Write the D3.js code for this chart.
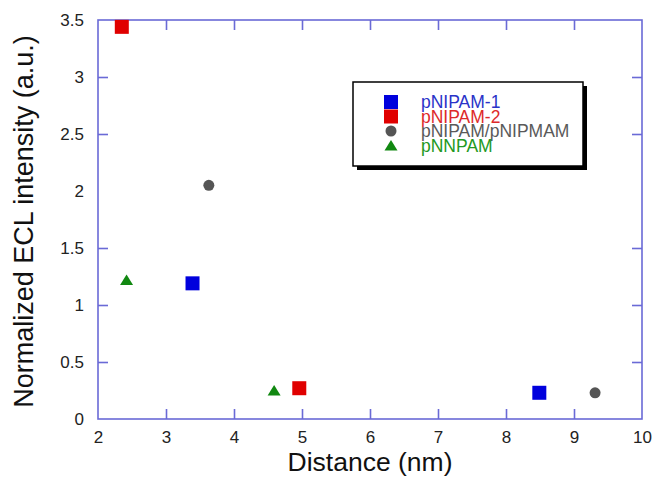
<!DOCTYPE html>
<html><head><meta charset="utf-8">
<script src="https://cdn.jsdelivr.net/npm/d3@7"></script>
<style>body{margin:0;background:#fff}svg{display:block}text{font-family:"Liberation Sans",Arial,sans-serif}</style>
</head><body>
<svg id="c" width="654" height="479"></svg>
<script>
const seriesNames = ["pNIPAM-1", "pNIPAM-2", "pNIPAM/pNIPMAM", "pNNPAM"];
const seriesShapes = ["square", "square", "circle", "triangle"];
const seriesColors = ["#0000dd", "#e00000", "#555555", "#118811"];
const textColors = ["#2a33c8", "#dd2a2a", "#5a5a5a", "#229922"];
const pNIPAM1 = [[3.39, 1.19], [8.49, 0.23]];
const pNIPAM2 = [[2.35, 3.44], [4.96, 0.27]];
const pNIPAM_pNIPMAM = [[3.63, 2.05], [9.31, 0.23]];
const pNNPAM = [[2.42, 1.22], [4.59, 0.25]];
const seriesData = [pNIPAM1, pNIPAM2, pNIPAM_pNIPMAM, pNNPAM];
const xTicks = [2, 3, 4, 5, 6, 7, 8, 9, 10];
const yTicks = [0, 0.5, 1, 1.5, 2, 2.5, 3, 3.5];

const svg = d3.select("#c");
const L = 98, R = 642, T = 20, B = 419;
const xs = d3.scaleLinear().domain([2, 10]).range([L, R]);
const ys = d3.scaleLinear().domain([0, 3.5]).range([B, T]);
const axCol = "#6a6ad6";

svg.append("rect").attr("x", L).attr("y", T).attr("width", R - L).attr("height", B - T)
  .attr("fill", "none").attr("stroke", axCol).attr("stroke-width", 1.6);

function styleAxis(g) {
  g.select(".domain").remove();
  g.selectAll("line").attr("stroke", axCol).attr("stroke-width", 1.6);
  g.selectAll("text").attr("fill", "#222").style("font-size", "17px");
}
svg.append("g").attr("transform", `translate(0,${B})`)
  .call(d3.axisBottom(xs).tickValues(xTicks).tickSize(-10).tickPadding(12).tickFormat(d3.format("d")))
  .call(styleAxis);
svg.append("g").attr("transform", `translate(0,${T})`)
  .call(d3.axisTop(xs).tickValues(xTicks).tickSize(-10).tickFormat(""))
  .call(styleAxis);
svg.append("g").attr("transform", `translate(${L},0)`)
  .call(d3.axisLeft(ys).tickValues(yTicks).tickSize(-10).tickPadding(14).tickFormat(d => d3.format("")(d)))
  .call(styleAxis);
svg.append("g").attr("transform", `translate(${R},0)`)
  .call(d3.axisRight(ys).tickValues(yTicks).tickSize(-10).tickFormat(""))
  .call(styleAxis);
svg.selectAll(".tick line").filter(function(d){return d===2||d===10||d===0||d===3.5;}).remove();

svg.append("text").attr("x", (L + R) / 2).attr("y", 471).attr("text-anchor", "middle")
  .attr("fill", "#111").style("font-size", "26.5px").text("Distance (nm)");
svg.append("text").attr("transform", `translate(33,${(T + B) / 2 + 2}) rotate(-90)`).attr("text-anchor", "middle")
  .attr("fill", "#111").style("font-size", "27px").text("Normalized ECL intensity (a.u.)");

function drawShape(g, shape, cx, cy, color) {
  if (shape === "square") {
    g.append("rect").attr("x", cx - 7).attr("y", cy - 7).attr("width", 14).attr("height", 14).attr("fill", color);
  } else if (shape === "circle") {
    g.append("circle").attr("cx", cx).attr("cy", cy).attr("r", 5.5).attr("fill", color);
  } else {
    g.append("path").attr("d", `M${cx},${cy - 5.5}L${cx + 6.5},${cy + 5}L${cx - 6.5},${cy + 5}Z`).attr("fill", color);
  }
}
const pts = svg.append("g");
seriesData.forEach((arr, i) => {
  arr.forEach(d => drawShape(pts, seriesShapes[i], xs(d[0]), ys(d[1]), seriesColors[i]));
});

const lg = svg.append("g");
lg.append("rect").attr("x", 357).attr("y", 86).attr("width", 230).attr("height", 84).attr("fill", "#000");
lg.append("rect").attr("x", 353).attr("y", 82).attr("width", 230).attr("height", 84)
  .attr("fill", "#fff").attr("stroke", "#000").attr("stroke-width", 1.5);
seriesNames.forEach((n, i) => {
  const cy = 102 + i * 14.5;
  drawShape(lg, seriesShapes[i], 391, cy, seriesColors[i]);
  lg.append("text").attr("x", 421).attr("y", cy + 6).attr("fill", textColors[i])
    .style("font-size", "17.5px").text(n);
});
</script>
</body></html>
